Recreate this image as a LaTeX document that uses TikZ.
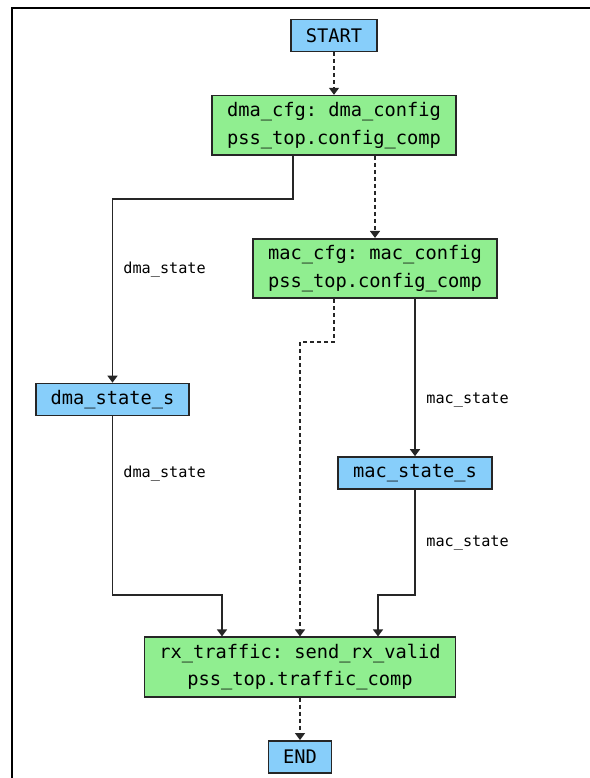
\documentclass[tikz,border=0pt]{standalone}
\usepackage{fontspec}
\setmonofont{DejaVu Sans Mono}
\usepackage{tikz}
\usetikzlibrary{positioning,arrows.meta,calc}
\usepackage{xcolor}
\definecolor{TaskGreen}{HTML}{90EE90}
\definecolor{StateBlue}{HTML}{87CEFA}
\definecolor{EdgeGrey}{HTML}{262626}

\begin{document}
\begin{tikzpicture}[
				x=0.5pt, y=-0.5pt,
				node distance=21.25pt,
				task/.style={
					draw=EdgeGrey,
					line width=0.8pt,
					fill=TaskGreen,
					align=center,
					minimum height=29.75pt,
					inner xsep=7.4pt,
					inner ysep=1pt,
					font=\ttfamily\fontsize{9.35}{13.85}\selectfont
				},
				state/.style={
					task,
					fill=StateBlue,
					minimum height=16pt
				},
				lbl/.style={
					anchor=west,
					inner sep=0pt,
					font=\ttfamily\fontsize{7.6}{9}\selectfont
				},
				flow/.style={
					-{Triangle[length=3.5pt,width=5pt]},
					draw=EdgeGrey,
					line width=0.75pt
				},
				order/.style={
					flow,
					dash pattern=on 2pt off 1.5pt
				}
				]
				
				\useasboundingbox (0,0) rectangle (590,778);
				\draw[line width=1pt] (12,778) -- (12,7.7) -- (590,7.7);
				
				\node[
				state
				] (start) at (334,35.5) {START};
				
				\node[
				task,
				below=of start
				] (dma_cfg) {dma\_cfg: dma\_config\\pss\_top.config\_comp};
				
				\node[
				task
				] (mac_cfg) at (375,268.5) {mac\_cfg: mac\_config\\pss\_top.config\_comp};
				
				\node[
				state
				] (dma_state_s) at (112.5,399.5) {dma\_state\_s};
				
				\node[
				state
				] (mac_state_s) at (415,473) {mac\_state\_s};
				
				\node[
				task
				] (rx_traffic) at (300,667) {rx\_traffic: send\_rx\_valid\\pss\_top.traffic\_comp};
				
				\node[
				state,
				below=of rx_traffic
				] (end) {END};
				
				\draw[order] (start) -- (dma_cfg);
				\draw[flow] ($(dma_cfg.south)+(-41,0)$) -- ++(0,43) -| (dma_state_s.north);
				\draw[order] (dma_cfg.south -| mac_cfg.north) -- (mac_cfg.north);
				\draw[order] ($(mac_cfg.south)+(-41,0)$) -- ++(0,43) -| (rx_traffic.north);
				\draw[flow] ($(mac_cfg.south)+(40,0)$) -- (mac_state_s.north);
				\draw[flow] (dma_state_s.south) -- ++(0,178.5) -| ($(rx_traffic.north)+(-78,0)$);
				\draw[flow] (mac_state_s.south) -- ++(0,105) -| ($(rx_traffic.north)+(78,0)$);
				\draw[order] (rx_traffic) -- (end);
				
				\node[lbl] (dma_lbl_a) at (123,269.5) {dma\_state};
				\node[lbl] (dma_lbl_b) at (123,474) {dma\_state};
				\node[lbl] (mac_lbl_a) at (426,400) {mac\_state};
				\node[lbl] (mac_lbl_b) at (426,542.5) {mac\_state};
				
			\end{tikzpicture}
\end{document}
